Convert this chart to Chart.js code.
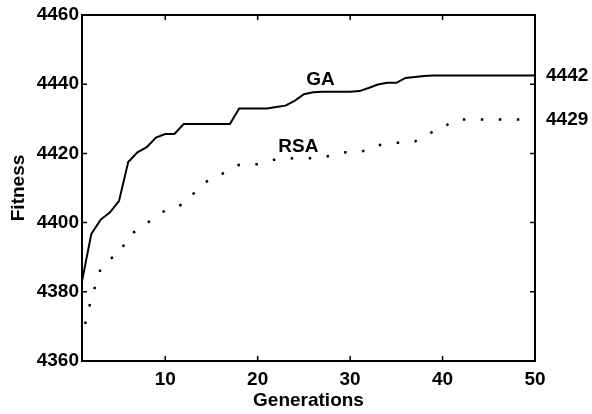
<!DOCTYPE html>
<html><head><meta charset="utf-8">
<script src="https://cdn.jsdelivr.net/npm/chart.js@4/dist/chart.umd.min.js"></script>
<style>html,body{margin:0;padding:0;background:#fff}#wrap{width:592px;height:414px}</style>
</head><body><div id="wrap"><canvas id="c" width="592" height="414"></canvas></div>
<script>
const generations = [1,2,3,4,5,6,7,8,9,10,11,12,13,14,15,16,17,18,19,20,21,22,23,24,25,26,27,28,29,30,31,32,33,34,35,36,37,38,39,40,41,42,43,44,45,46,47,48,49,50];
const gaFitness = [4383,4396.7,4400.8,4402.9,4406.2,4417.5,4420.3,4421.8,4424.6,4425.6,4425.6,4428.5,4428.5,4428.5,4428.5,4428.5,4428.5,4433,4433,4433,4433,4433.4,4433.8,4435.2,4437.1,4437.7,4437.8,4437.8,4437.8,4437.8,4438,4438.9,4439.9,4440.4,4440.4,4441.8,4442.1,4442.4,4442.5,4442.5,4442.5,4442.5,4442.5,4442.5,4442.5,4442.5,4442.5,4442.5,4442.5,4442.5];
const rsaFitness = [4367,4378,4386.5,4389.6,4390.6,4396.2,4397.9,4399.8,4401.7,4403.5,4404.6,4405.3,4408.2,4410.8,4413,4413.9,4415.2,4416.7,4416.9,4416.9,4417.6,4418.3,4418.5,4418.6,4418.6,4418.6,4418.9,4419.4,4420.1,4420.5,4420.5,4421,4422.3,4422.8,4423.1,4423.1,4423.4,4425,4426.3,4427.2,4429.3,4429.8,4429.8,4429.8,4429.8,4429.8,4429.8,4429.8,4429.8,4429.8];
const xTickValues = [10,20,30,40,50];
const yTickValues = [4360,4380,4400,4420,4440,4460];
const seriesNames = ['GA','RSA'];
const endLabels = ['4442','4429'];
const xTitle = 'Generations';
const yTitle = 'Fitness';
// in-plot series name anchors (data coordinates)
const nameAnchorX = [26.8, 24.4];
const nameAnchorY = [4441.2, 4421.9];

const FONT = '"Liberation Sans", Arial, sans-serif';
const FS = 19;

const annotPlugin = {
  id: 'annot',
  afterDraw(chart) {
    const {ctx, chartArea: a, scales: {x, y}} = chart;
    ctx.save();
    ctx.strokeStyle = '#000';
    ctx.lineWidth = 2;
    ctx.strokeRect(a.left, a.top, a.right - a.left, a.bottom - a.top);
    ctx.lineWidth = 1.5;
    ctx.beginPath();
    xTickValues.forEach(v => {
      if (v >= x.max) return;
      const px = x.getPixelForValue(v);
      ctx.moveTo(px, a.bottom); ctx.lineTo(px, a.bottom - 5);
      ctx.moveTo(px, a.top); ctx.lineTo(px, a.top + 5);
    });
    yTickValues.forEach(v => {
      if (v <= y.min || v >= y.max) return;
      const py = y.getPixelForValue(v);
      ctx.moveTo(a.left, py); ctx.lineTo(a.left + 5, py);
      ctx.moveTo(a.right, py); ctx.lineTo(a.right - 5, py);
    });
    ctx.stroke();
    ctx.fillStyle = '#000';
    ctx.font = 'bold ' + FS + 'px ' + FONT;
    ctx.textBaseline = 'middle';
    ctx.textAlign = 'center';
    seriesNames.forEach((n, i) => {
      ctx.fillText(n, x.getPixelForValue(nameAnchorX[i]), y.getPixelForValue(nameAnchorY[i]));
    });
    ctx.textAlign = 'left';
    const series = [gaFitness, rsaFitness];
    endLabels.forEach((t, i) => {
      const s = series[i];
      ctx.fillText(t, a.right + 11, y.getPixelForValue(s[s.length - 1]));
    });
    ctx.restore();
  }
};

new Chart(document.getElementById('c'), {
  type: 'line',
  data: {
    datasets: [
      {
        label: seriesNames[0],
        data: generations.map((g, i) => ({x: g, y: gaFitness[i]})),
        borderColor: '#000', borderWidth: 2, pointRadius: 0, tension: 0, fill: false
      },
      {
        label: seriesNames[1],
        data: generations.map((g, i) => ({x: g, y: rsaFitness[i]})),
        borderColor: '#000', borderWidth: 2.5, borderDash: [2.5, 15.5], borderDashOffset: 4.8, pointRadius: 0, tension: 0, fill: false
      }
    ]
  },
  options: {
    responsive: false,
    animation: false,
    devicePixelRatio: 1,
    layout: {padding: {left: 0, right: 57, top: 15, bottom: 0}},
    plugins: {legend: {display: false}, tooltip: {enabled: false}},
    scales: {
      x: {
        type: 'linear', min: 1, max: 50,
        afterBuildTicks: s => { s.ticks = xTickValues.map(v => ({value: v})); },
        afterFit: s => { s.height = 53; },
        grid: {display: false, drawTicks: false},
        border: {display: false},
        ticks: {color: '#000', font: {family: FONT, size: FS, weight: 'bold'}, padding: 7, maxRotation: 0, callback: v => String(v)},
        title: {display: true, text: xTitle, color: '#000', font: {family: FONT, size: FS, weight: 'bold'}, padding: {top: 0, bottom: 2}}
      },
      y: {
        type: 'linear', min: 4360, max: 4460,
        afterBuildTicks: s => { s.ticks = yTickValues.map(v => ({value: v})); },
        afterFit: s => { s.width = 82; },
        grid: {display: false, drawTicks: false},
        border: {display: false},
        ticks: {color: '#000', font: {family: FONT, size: FS, weight: 'bold'}, padding: 3, callback: v => String(v)},
        title: {display: true, text: yTitle, color: '#000', font: {family: FONT, size: FS, weight: 'bold'}, padding: {top: 7, bottom: 0}}
      }
    }
  },
  plugins: [annotPlugin]
});
</script></body></html>
